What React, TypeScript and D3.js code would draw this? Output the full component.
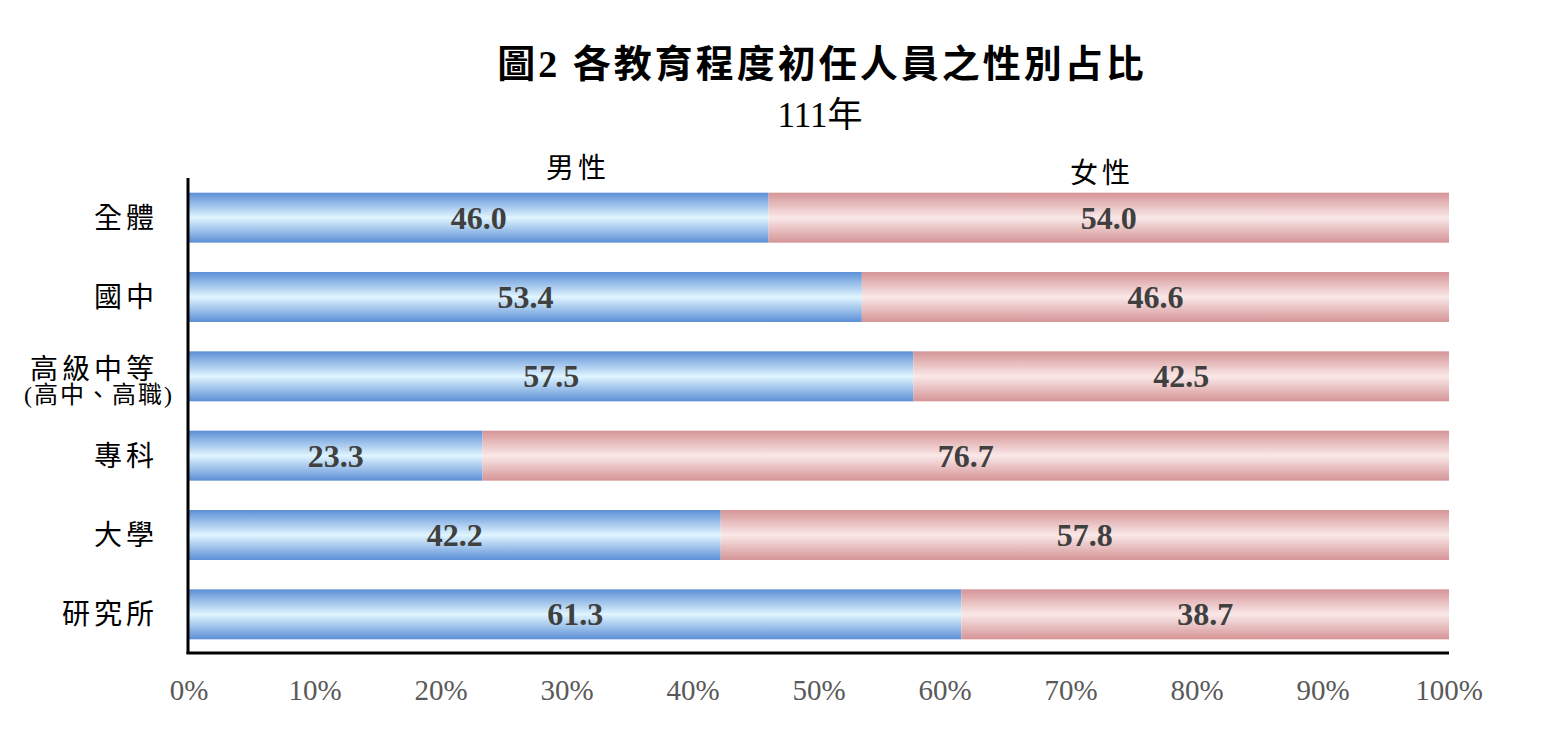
import React, { useEffect, useRef } from 'react';
import * as d3 from 'd3';

const categories = ['全體', '國中', '高級中等', '專科', '大學', '研究所'];
const categorySubLabels = ['', '', '(高中、高職)', '', '', ''];
const maleValues = [46.0, 53.4, 57.5, 23.3, 42.2, 61.3];
const femaleValues = [54.0, 46.6, 42.5, 76.7, 57.8, 38.7];
const seriesNames = ['男性', '女性'];
const xTicks = [0, 10, 20, 30, 40, 50, 60, 70, 80, 90, 100];

const WIDTH = 1552;
const HEIGHT = 736;
const FONT = '"Liberation Serif", "Noto Sans CJK TC", serif';

const App: React.FC = () => {
  const svgRef = useRef<SVGSVGElement>(null);

  useEffect(() => {
    if (!svgRef.current) return;
    const svg = d3.select(svgRef.current);
    svg.selectAll('*').remove();

    const left = 189;
    const right = 1449;
    const top = 178;
    const bottom = 654;

    const x = d3.scaleLinear().domain([0, 100]).range([left, right]);
    const y = d3.scaleBand<string>().domain(categories).range([top, bottom]).paddingInner(0.37).paddingOuter(0.185);

    // gradients
    const defs = svg.append('defs');
    const grad = (id: string, edge: string, mid: string) => {
      const g = defs.append('linearGradient').attr('id', id).attr('x1', 0).attr('x2', 0).attr('y1', 0).attr('y2', 1);
      g.append('stop').attr('offset', '0%').attr('stop-color', edge);
      g.append('stop').attr('offset', '50%').attr('stop-color', mid);
      g.append('stop').attr('offset', '100%').attr('stop-color', edge);
    };
    grad('maleGrad', '#5c8fd6', '#e0f5ff');
    grad('femaleGrad', '#d59496', '#fae8e8');

    // title
    svg.append('text')
      .attr('x', 822).attr('y', 77)
      .attr('text-anchor', 'middle')
      .attr('font-family', FONT)
      .attr('font-size', 38).attr('font-weight', 'bold')
      .attr('letter-spacing', 3)
      .attr('fill', '#000')
      .text('圖2 各教育程度初任人員之性別占比');
    svg.append('text')
      .attr('x', 820).attr('y', 127)
      .attr('text-anchor', 'middle')
      .attr('font-family', FONT)
      .attr('font-size', 35)
      .attr('fill', '#000')
      .text('111年');

    // series labels
    svg.append('text')
      .attr('x', 578).attr('y', 178)
      .attr('text-anchor', 'middle')
      .attr('font-family', FONT).attr('font-size', 28)
      .attr('letter-spacing', 4)
      .text(seriesNames[0]);
    svg.append('text')
      .attr('x', 1102).attr('y', 183)
      .attr('text-anchor', 'middle')
      .attr('font-family', FONT).attr('font-size', 28)
      .attr('letter-spacing', 4)
      .text(seriesNames[1]);

    const rows = categories.map((c, i) => ({ c, m: maleValues[i], f: femaleValues[i] }));
    const bh = y.bandwidth();

    svg.append('g').selectAll('rect').data(rows).enter().append('rect')
      .attr('x', x(0))
      .attr('y', d => y(d.c)!)
      .attr('width', d => x(d.m) - x(0))
      .attr('height', bh)
      .attr('fill', 'url(#maleGrad)');
    svg.append('g').selectAll('rect').data(rows).enter().append('rect')
      .attr('x', d => x(d.m))
      .attr('y', d => y(d.c)!)
      .attr('width', d => x(d.m + d.f) - x(d.m))
      .attr('height', bh)
      .attr('fill', 'url(#femaleGrad)');

    // value labels
    const valueText = (accessor: (d: typeof rows[0]) => number, cx: (d: typeof rows[0]) => number) =>
      svg.append('g').selectAll('text').data(rows).enter().append('text')
        .attr('x', cx)
        .attr('y', d => y(d.c)! + bh / 2 + 11)
        .attr('text-anchor', 'middle')
        .attr('font-family', FONT)
        .attr('font-size', 32).attr('font-weight', 'bold')
        .attr('fill', '#404040')
        .text(d => accessor(d).toFixed(1));
    valueText(d => d.m, d => (x(0) + x(d.m)) / 2);
    valueText(d => d.f, d => (x(d.m) + x(100)) / 2);

    // category labels
    rows.forEach((d, i) => {
      const cy = y(d.c)! + bh / 2;
      const sub = categorySubLabels[i];
      const t = svg.append('text')
        .attr('x', 158)
        .attr('text-anchor', 'end')
        .attr('font-family', FONT)
        .attr('font-size', 28)
        .attr('letter-spacing', 4)
        .attr('fill', '#000');
      if (sub) {
        t.attr('y', cy + 3).text(d.c);
        svg.append('text')
          .attr('x', 174)
          .attr('y', cy + 27)
          .attr('text-anchor', 'end')
          .attr('font-family', FONT)
          .attr('font-size', 24)
          .attr('letter-spacing', 2)
          .attr('fill', '#000')
          .text(sub);
      } else {
        t.attr('y', cy + 10).text(d.c);
      }
    });

    // axes lines
    svg.append('line')
      .attr('x1', left - 1).attr('x2', left - 1)
      .attr('y1', top).attr('y2', bottom)
      .attr('stroke', '#000').attr('stroke-width', 3);
    svg.append('line')
      .attr('x1', left - 2.5).attr('x2', right)
      .attr('y1', bottom - 1).attr('y2', bottom - 1)
      .attr('stroke', '#000').attr('stroke-width', 3);

    // x tick labels
    svg.append('g').selectAll('text').data(xTicks).enter().append('text')
      .attr('x', d => x(d))
      .attr('y', 700)
      .attr('text-anchor', 'middle')
      .attr('font-family', FONT)
      .attr('font-size', 29)
      .attr('fill', '#595959')
      .text(d => `${d}%`);
  }, []);

  return (
    <svg
      ref={svgRef}
      width={WIDTH}
      height={HEIGHT}
      style={{ position: 'absolute', left: 0, top: 0, background: '#fff' }}
      role="img"
      aria-label="各教育程度初任人員之性別占比"
    />
  );
};

export default App;
